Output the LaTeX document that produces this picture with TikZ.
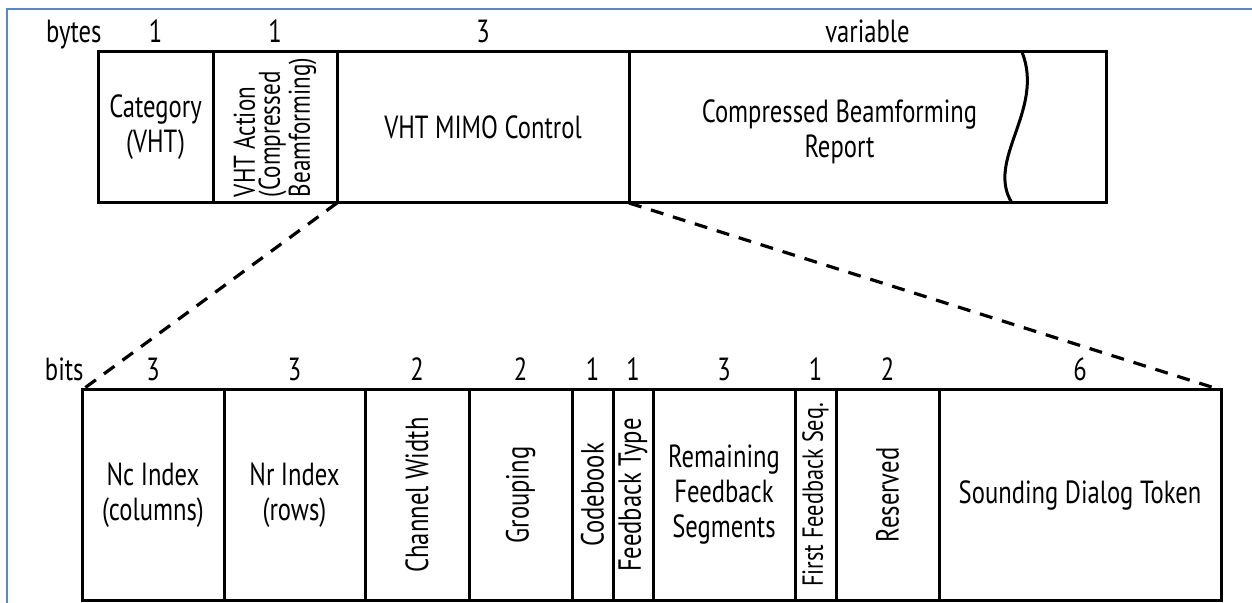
\documentclass[tikz,border=0pt]{standalone}
\usepackage{fontspec}
\setmainfont{PT Sans}[FakeStretch=0.77]
\usepackage{graphicx}
\usetikzlibrary{positioning}
\definecolor{framecol}{HTML}{5A87C6}
\newcommand{\fieldfont}{\fontsize{16}{17.5}\selectfont}

\begin{document}
\begin{tikzpicture}[x=0.5pt, y=-0.5pt,
    field/.style={draw, line width=1.5pt, inner sep=0pt, outer sep=0pt, align=center, font=\fieldfont},
    bytefield/.style={field, minimum height=75.5pt},
    bitfield/.style={field, minimum height=105pt},
    sizelbl/.style={font=\fieldfont, inner sep=0pt},
    zoomline/.style={line width=1.6pt, dash pattern=on 6.5pt off 5pt}]
  \useasboundingbox (0,0) rectangle (1252,603);
  % screenshot frame
  \draw[framecol, line width=1pt] (7,603) -- (7,9) -- (1252,9);

  % action frame, in bytes
  \node[bytefield, minimum width=57.5pt, anchor=north west] (cat) at (98,52) {Category\\(VHT)};
  \node[bytefield, minimum width=62pt, right=0pt of cat] (act)
    {\rotatebox{90}{\fontsize{15}{12.5}\selectfont\vbox{\hbox{VHT Action}\hbox{(Compressed}\hbox{Beamforming)}}}};
  \node[bytefield, minimum width=146pt, right=0pt of act] (mimo) {VHT MIMO Control};
  \node[bytefield, minimum width=238.5pt, right=0pt of mimo] (report) {};
  \node[font=\fieldfont, align=center, inner sep=0pt] (reporttxt) at ([shift={(-14pt,-2pt)}]report.center) {Compressed Beamforming\\Report};
  % break in the variable length field
  \draw[line width=1.5pt] (1022,52) .. controls (1045,110) and (985,160) .. (1012,203);

  % byte counts
  \node[sizelbl, anchor=base east] (bytes) at ([shift={(2pt,4.5pt)}]cat.north west) {bytes};
  \node[sizelbl, above=4.5pt of cat.north, anchor=base] (catsz) {1};
  \node[sizelbl, above=4.5pt of act.north, anchor=base] (actsz) {1};
  \node[sizelbl, above=4.5pt of mimo.north, anchor=base] (mimosz) {3};
  \node[sizelbl, above=4.5pt of report.north, anchor=base] (reportsz) {variable};

  % VHT MIMO Control field, in bits
  \node[bitfield, minimum width=71pt, anchor=north west] (nc) at (82,390) {Nc Index\\(columns)};
  \node[bitfield, minimum width=70.5pt, right=0pt of nc] (nr) {Nr Index\\(rows)};
  \node[bitfield, minimum width=52pt, right=0pt of nr] (chw) {\rotatebox{90}{Channel Width}};
  \node[bitfield, minimum width=51.5pt, right=0pt of chw] (grp) {\rotatebox{90}{Grouping}};
  \node[bitfield, minimum width=20.5pt, right=0pt of grp] (cbk) {\rotatebox{90}{Codebook}};
  \node[bitfield, minimum width=20pt, right=0pt of cbk] (fbt) {\rotatebox{90}{Feedback Type}};
  \node[bitfield, minimum width=71pt, right=0pt of fbt] (rfs) {Remaining\\Feedback\\Segments};
  \node[bitfield, minimum width=20.5pt, right=0pt of rfs] (ffs) {\rotatebox{90}{\fontsize{14.5}{16}\selectfont First Feedback Seq.}};
  \node[bitfield, minimum width=51.5pt, right=0pt of ffs] (rsv) {\rotatebox{90}{Reserved}};
  \node[bitfield, minimum width=141pt, right=0pt of rsv] (sdt) {Sounding Dialog Token};

  % bit counts
  \node[sizelbl, anchor=base east] (bits) at ([shift={(1pt,4.5pt)}]nc.north west) {bits};
  \node[sizelbl, above=4.5pt of nc.north, anchor=base] (ncsz) {3};
  \node[sizelbl, above=4.5pt of nr.north, anchor=base] (nrsz) {3};
  \node[sizelbl, above=4.5pt of chw.north, anchor=base] (chwsz) {2};
  \node[sizelbl, above=4.5pt of grp.north, anchor=base] (grpsz) {2};
  \node[sizelbl, above=4.5pt of cbk.north, anchor=base] (cbksz) {1};
  \node[sizelbl, above=4.5pt of fbt.north, anchor=base] (fbtsz) {1};
  \node[sizelbl, above=4.5pt of rfs.north, anchor=base] (rfssz) {3};
  \node[sizelbl, above=4.5pt of ffs.north, anchor=base] (ffssz) {1};
  \node[sizelbl, above=4.5pt of rsv.north, anchor=base] (rsvsz) {2};
  \node[sizelbl, above=4.5pt of sdt.north, anchor=base] (sdtsz) {6};

  % zoom from the byte field into its bits
  \draw[zoomline] (act.south east) -- (nc.north west);
  \draw[zoomline] (mimo.south east) -- (sdt.north east);
\end{tikzpicture}
\end{document}
